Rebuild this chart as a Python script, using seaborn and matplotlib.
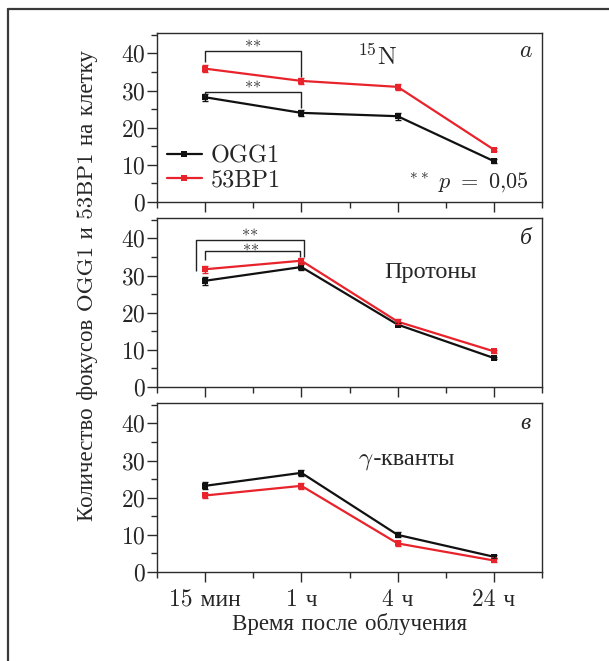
import numpy as np
import pandas as pd
import matplotlib
matplotlib.use("Agg")
import matplotlib.pyplot as plt
import seaborn as sns
from matplotlib.lines import Line2D
from matplotlib.ticker import MultipleLocator, FixedLocator

# ---- data -------------------------------------------------------------
times = ["15 мин", "1 ч", "4 ч", "24 ч"]
proteins = ["OGG1", "53BP1"]

n15_ogg1 = [28.2, 24.0, 23.1, 11.0]
n15_ogg1_err = [0.9, 0.9, 0.9, 0.6]
n15_53bp1 = [35.9, 32.6, 31.0, 14.1]
n15_53bp1_err = [0.9, 0.9, 0.8, 0.4]

prot_ogg1 = [28.6, 32.3, 16.8, 7.8]
prot_ogg1_err = [1.1, 0.7, 0.5, 0.3]
prot_53bp1 = [31.7, 34.0, 17.6, 9.6]
prot_53bp1_err = [0.9, 0.8, 0.6, 0.4]

gamma_ogg1 = [23.2, 26.7, 10.0, 4.1]
gamma_ogg1_err = [0.9, 0.8, 0.7, 0.4]
gamma_53bp1 = [20.6, 23.2, 7.7, 3.1]
gamma_53bp1_err = [0.8, 0.8, 0.7, 0.4]

panel_letters = [r"$a$", "б", "в"]

# ---- style ------------------------------------------------------------
sns.set_style("ticks")
plt.rcParams["font.family"] = ["cmr10", "Liberation Serif"]
plt.rcParams["mathtext.fontset"] = "cm"
plt.rcParams["axes.formatter.use_mathtext"] = True
plt.rcParams["axes.unicode_minus"] = False

colors = {"OGG1": "#111111", "53BP1": "#e8232b"}
spine_c = "#2b2b2b"
FS_TICK = 17
FS_LABEL = 16.5


def long_frame(ogg, ogg_err, bp, bp_err):
    pos = np.arange(len(times))
    return pd.DataFrame({
        "pos": np.concatenate([pos, pos]),
        "time": times * 2,
        "protein": ["OGG1"] * len(times) + ["53BP1"] * len(times),
        "value": list(ogg) + list(bp),
        "err": list(ogg_err) + list(bp_err),
    })


frames = [
    long_frame(n15_ogg1, n15_ogg1_err, n15_53bp1, n15_53bp1_err),
    long_frame(prot_ogg1, prot_ogg1_err, prot_53bp1, prot_53bp1_err),
    long_frame(gamma_ogg1, gamma_ogg1_err, gamma_53bp1, gamma_53bp1_err),
]

fig = plt.figure(figsize=(6.09, 6.61), dpi=100)

W, H = 609.0, 661.0
left_px, right_px = 157, 542
panels_px = [(33, 202), (218, 387), (403, 572)]

axes = []
for (top, bot) in panels_px:
    ax = fig.add_axes([left_px / W, 1 - bot / H, (right_px - left_px) / W, (bot - top) / H])
    axes.append(ax)

for i, (ax, df) in enumerate(zip(axes, frames)):
    sns.lineplot(data=df, x="pos", y="value", hue="protein", hue_order=proteins,
                 palette=colors, marker="s", markersize=4.2, markeredgewidth=0,
                 linewidth=1.6, errorbar=None, legend=False, ax=ax)
    for p in proteins:
        sub = df[df["protein"] == p]
        ax.errorbar(sub["pos"], sub["value"], yerr=sub["err"], fmt="none",
                    ecolor=colors[p], elinewidth=1.0, capsize=2.0, capthick=1.0)

    ax.set_xlim(-0.5, len(times) - 0.5)
    ax.set_ylim(0, 45.5)
    ax.yaxis.set_major_locator(MultipleLocator(10))
    ax.yaxis.set_minor_locator(MultipleLocator(5))
    ax.xaxis.set_major_locator(FixedLocator(np.arange(len(times))))
    ax.xaxis.set_minor_locator(FixedLocator(np.arange(-0.5, len(times), 1.0)))
    ax.set_xlabel("")
    ax.set_ylabel("")
    for s in ax.spines.values():
        s.set_color(spine_c)
        s.set_linewidth(1.0)
    ax.tick_params(axis="both", which="major", direction="out", length=7, width=1.0,
                   color=spine_c, labelsize=FS_TICK, pad=2)
    ax.tick_params(axis="both", which="minor", direction="out", length=4, width=1.0,
                   color=spine_c)
    ax.tick_params(axis="y", pad=1)
    if i < 2:
        ax.set_xticklabels([])
    else:
        ax.set_xticklabels(times)
        ax.tick_params(axis="x", pad=5)

    ax.text(3.33, 40.6 if i == 0 else 40.0, panel_letters[i], fontsize=FS_TICK,
            ha="center", va="center",
            family="Liberation Serif" if i > 0 else None,
            style="italic" if i > 0 else "normal")

# panel titles
axes[0].text(1.79, 39.0, r"$^{15}$N", fontsize=18, ha="center", va="center")
axes[1].text(2.34, 31.1, "Протоны", fontsize=17.5, ha="center", va="center")
axes[2].text(1.75, 30.0, r"$\gamma$", fontsize=18, ha="right", va="center")
axes[2].text(1.75, 30.4, "-кванты", fontsize=17.5, ha="left", va="center")

# significance note
axes[0].text(3.36, 5.3, r"$^{\ast\ast}\ p\ =\ 0{,}05$", fontsize=16, ha="right", va="center")

# significance brackets
br_kw = dict(color="#222222", linewidth=1.0, solid_capstyle="butt")
star_kw = dict(fontsize=12, ha="center", va="center", color="#333333")
stars = r"$\ast\!\ast$"
a0 = axes[0]
a0.plot([0, 0, 1, 1], [37.7, 40.6, 40.6, 33.6], **br_kw)
a0.text(0.5, 43.2, stars, **star_kw)
a0.plot([0, 0, 1, 1], [28.5, 29.7, 29.7, 25.3], **br_kw)
a0.text(0.5, 32.0, stars, **star_kw)
a1 = axes[1]
a1.plot([-0.1, -0.1, 1.03, 1.03], [31.3, 39.6, 39.6, 34.9], **br_kw)
a1.text(0.47, 42.1, stars, **star_kw)
a1.plot([0, 0, 0.99, 0.99], [34.2, 36.5, 36.5, 34.9], **br_kw)
a1.text(0.48, 38.0, stars, **star_kw)

# legend
handles = [Line2D([0], [0], color=colors[p], linewidth=1.6, marker="s",
                  markersize=4.2, markeredgewidth=0) for p in proteins]
axes[0].legend(handles, proteins, loc="lower left", bbox_to_anchor=(0.025, 0.06),
               frameon=False, fontsize=17.5, handlelength=1.45, handletextpad=0.35,
               labelspacing=0.1, borderpad=0, borderaxespad=0)

# axis labels
fig.text(88 / W, 1 - 286 / H, "Количество фокусов OGG1 и 53BP1 на клетку",
         rotation=90, ha="center", va="center", fontsize=FS_LABEL)
fig.text(349 / W, 1 - 624 / H, "Время после облучения", ha="center", va="center",
         fontsize=FS_LABEL)

# outer frame (top and left edges)
frame_kw = dict(color="#3a3a3a", linewidth=1.6, transform=fig.transFigure)
fig.add_artist(Line2D([8 / W, 1.0], [1 - 9 / H, 1 - 9 / H], **frame_kw))
fig.add_artist(Line2D([8 / W, 8 / W], [0.0, 1 - 9 / H], **frame_kw))

fig.savefig("out.png", dpi=100)
